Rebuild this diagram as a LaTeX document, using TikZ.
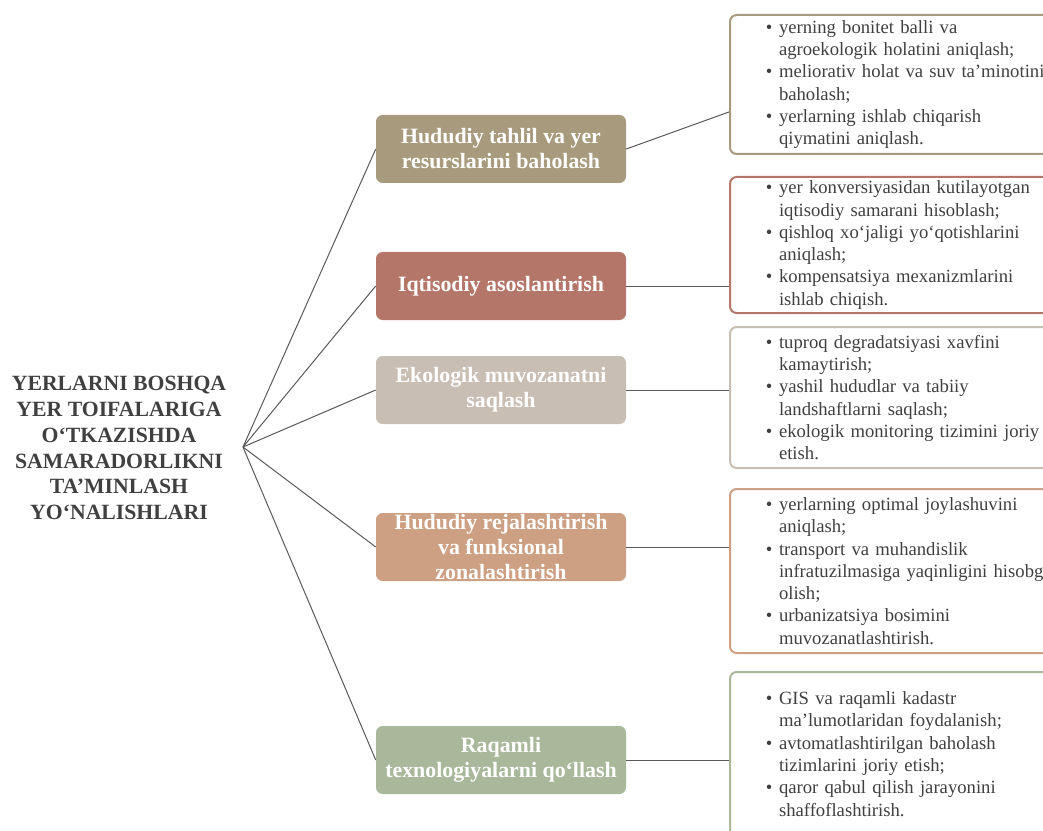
\documentclass[tikz,border=0pt]{standalone}
\usepackage{fontspec}
\setmainfont{Liberation Serif}
\usetikzlibrary{positioning}
\definecolor{tancolor}{RGB}{168,154,124}
\definecolor{redcolor}{RGB}{181,118,106}
\definecolor{greycolor}{RGB}{201,190,180}
\definecolor{peachcolor}{RGB}{205,160,132}
\definecolor{greencolor}{RGB}{169,183,155}
\definecolor{textgrey}{RGB}{64,64,64}
\definecolor{linegrey}{RGB}{89,89,89}

\newcommand{\bul}{\leavevmode\llap{\textbullet\hspace{5pt}}}

\begin{document}
\begin{tikzpicture}[x=0.75pt,y=-0.75pt,
  mbox/.style={rectangle,rounded corners=5pt,fill=#1,minimum width=187.5pt,minimum height=51pt,inner sep=0pt},
  mtext/.style={text=white,font=\fontsize{16.4}{18.8}\selectfont\bfseries,align=center},
  rbox/.style={rectangle,rounded corners=5pt,draw=#1,line width=1.5pt,fill=white,anchor=north west,
    text width=215pt,inner xsep=36.75pt,inner ysep=0pt,align=left,text=textgrey,font=\fontsize{14}{16.7}\selectfont},
  link/.style={linegrey,line width=0.75pt}]
  \useasboundingbox (0,0) rectangle (1043,831);
  \clip (0,0) rectangle (1043,831);

  % title:
  \node[text=textgrey,font=\fontsize{16.3}{19.4}\selectfont\bfseries,align=center] (title) at (119,448)
    {YERLARNI BOSHQA\\YER TOIFALARIGA\\O‘TKAZISHDA\\SAMARADORLIKNI\\TA’MINLASH\\YO‘NALISHLARI};
  \coordinate (hub) at (243,447);

  % directions:
  \node[mbox=tancolor,mtext] (M1) at (501,149) {Hududiy tahlil va yer\\resurslarini baholash};
  \node[mbox=redcolor,mtext] (M2) at (501,286) {Iqtisodiy asoslantirish};
  \node[mbox=greycolor,mtext] (M3) at (501,390) {Ekologik muvozanatni\\saqlash};
  \node[mbox=peachcolor] (M4) at (501,547) {};
  \node[mtext] at (M4.center) {Hududiy rejalashtirish\\va funksional\\zonalashtirish};
  \node[mbox=greencolor,mtext] (M5) at (501,760) {Raqamli\\texnologiyalarni qo‘llash};

  % details:
  \node[rbox=tancolor,minimum height=104.25pt] (R1) at (729,14)
    {\bul yerning bonitet balli va\\
     agroekologik holatini aniqlash;\\
     \bul meliorativ holat va suv ta’minotini\\
     baholash;\\
     \bul yerlarning ishlab chiqarish\\
     qiymatini aniqlash.};
  \node[rbox=redcolor,minimum height=102pt] (R2) at (729,176)
    {\bul yer konversiyasidan kutilayotgan\\
     iqtisodiy samarani hisoblash;\\
     \bul qishloq xo‘jaligi yo‘qotishlarini\\
     aniqlash;\\
     \bul kompensatsiya mexanizmlarini\\
     ishlab chiqish.};
  \node[rbox=greycolor,minimum height=105.75pt] (R3) at (729,326)
    {\bul tuproq degradatsiyasi xavfini\\
     kamaytirish;\\
     \bul yashil hududlar va tabiiy\\
     landshaftlarni saqlash;\\
     \bul ekologik monitoring tizimini joriy\\
     etish.};
  \node[rbox=peachcolor,minimum height=123pt] (R4) at (729,488)
    {\bul yerlarning optimal joylashuvini\\
     aniqlash;\\
     \bul transport va muhandislik\\
     infratuzilmasiga yaqinligini hisobga\\
     olish;\\
     \bul urbanizatsiya bosimini\\
     muvozanatlashtirish.};
  \node[rbox=greencolor,minimum height=123pt] (R5) at (729,671)
    {\bul GIS va raqamli kadastr\\
     ma’lumotlaridan foydalanish;\\
     \bul avtomatlashtirilgan baholash\\
     tizimlarini joriy etish;\\
     \bul qaror qabul qilish jarayonini\\
     shaffoflashtirish.};
  \coordinate (R1in) at ([yshift=-20.6pt]R1.west);

  % links:
  \foreach \i in {1,...,5}
    \draw[link] (hub) -- (M\i.west);
  \draw[link] (M1.east) -- (R1in);
  \foreach \i in {2,...,5}
    \draw[link] (M\i.east) -- (R\i.west |- M\i.east);
\end{tikzpicture}
\end{document}
